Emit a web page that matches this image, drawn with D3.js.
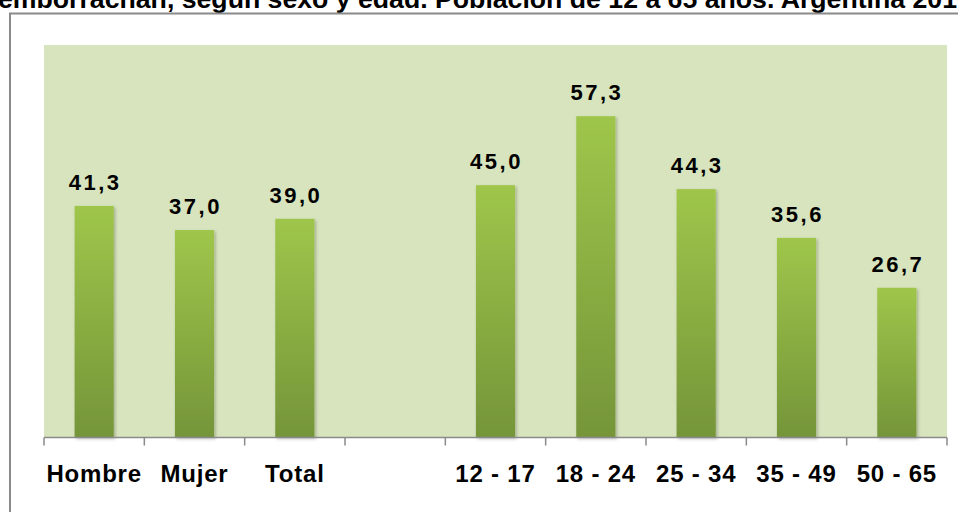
<!DOCTYPE html>
<html>
<head>
<meta charset="utf-8">
<script src="https://cdn.jsdelivr.net/npm/d3@7/dist/d3.min.js"></script>
<style>
  html, body { margin: 0; padding: 0; background: #ffffff; overflow: hidden; }
  svg { display: block; }
  text { font-family: "Liberation Sans", Arial, sans-serif; font-weight: bold; fill: #000; }
</style>
</head>
<body>
<svg id="chart" width="958" height="512"></svg>
<script>
// Porcentaje que se emborracha, por sexo y por grupo de edad
const categories = ["Hombre", "Mujer", "Total", "", "12 - 17", "18 - 24", "25 - 34", "35 - 49", "50 - 65"];
const values = [41.3, 37.0, 39.0, null, 45.0, 57.3, 44.3, 35.6, 26.7];
const valueLabels = ["41,3", "37,0", "39,0", "", "45,0", "57,3", "44,3", "35,6", "26,7"];
const titleText = "emborrachan, según sexo y edad. Población de 12 a 65 años. Argentina 201";

const svg = d3.select("#chart");
const W = 958, H = 512;
const plot = { left: 44, right: 947, top: 45, bottom: 437.5 };

// Gradient for the bars: light green on top, olive at the base
const defs = svg.append("defs");
const grad = defs.append("linearGradient")
  .attr("id", "barGrad").attr("x1", 0).attr("y1", 0).attr("x2", 0).attr("y2", 1);
grad.append("stop").attr("offset", "0%").attr("stop-color", "#9fc64b");
grad.append("stop").attr("offset", "100%").attr("stop-color", "#759539");

const shadow = defs.append("filter").attr("id", "barShadow")
  .attr("x", "-30%").attr("y", "-10%").attr("width", "160%").attr("height", "120%");
shadow.append("feDropShadow").attr("dx", 1.5).attr("dy", 1.5).attr("stdDeviation", 1.5)
  .attr("flood-color", "#000").attr("flood-opacity", 0.25);

// Title, running past the top edge of the page; sized to span the page width
const title = svg.append("text")
  .attr("x", 0).attr("y", 7.5)
  .style("font-size", "27px")
  .text(titleText);
const tw27 = title.node().getComputedTextLength();
title.style("font-size", (27 * 959 / tw27).toFixed(2) + "px");
const tw = title.node().getComputedTextLength();
title.attr("x", 957 - tw);

// Outer chart frame (continues beyond the right and bottom edges)
svg.append("rect")
  .attr("x", 10).attr("y", 13.5)
  .attr("width", W + 20).attr("height", H + 20)
  .attr("fill", "#fff").attr("stroke", "#8a8a8a").attr("stroke-width", 2);

// Plot area background
svg.append("rect")
  .attr("x", plot.left).attr("y", plot.top)
  .attr("width", plot.right - plot.left).attr("height", plot.bottom - plot.top)
  .attr("fill", "#d7e4bd");

const x = d3.scaleBand()
  .domain(d3.range(categories.length))
  .range([plot.left, plot.right])
  .paddingInner(0.61).paddingOuter(0.305);

const y = d3.scaleLinear().domain([0, 70]).range([plot.bottom, plot.top]);

const data = categories.map((c, i) => ({ i, c, v: values[i], lab: valueLabels[i] }))
  .filter(d => d.v != null);

// Bars
svg.append("g").selectAll("rect")
  .data(data).enter().append("rect")
  .attr("x", d => x(d.i))
  .attr("y", d => y(d.v))
  .attr("width", x.bandwidth())
  .attr("height", d => y(0) - y(d.v))
  .attr("fill", "url(#barGrad)")
  .attr("filter", "url(#barShadow)");

// Value labels
svg.append("g").selectAll("text")
  .data(data).enter().append("text")
  .attr("x", d => x(d.i) + x.bandwidth() / 2 + 1)
  .attr("y", d => y(d.v) - 16)
  .attr("text-anchor", "middle")
  .style("font-size", "22px")
  .style("letter-spacing", "2.5px")
  .text(d => d.lab);

// Category axis: ticks at the boundaries between categories
const step = (plot.right - plot.left) / categories.length;
const bounds = d3.range(categories.length + 1).map(k => plot.left + k * step);
const axisG = svg.append("g");
axisG.append("line")
  .attr("x1", plot.left).attr("x2", plot.right)
  .attr("y1", plot.bottom).attr("y2", plot.bottom)
  .attr("stroke", "#8a8a8a").attr("stroke-width", 1.5);
axisG.selectAll("line.tick")
  .data(bounds).enter().append("line")
  .attr("class", "tick")
  .attr("x1", d => d).attr("x2", d => d)
  .attr("y1", plot.bottom).attr("y2", plot.bottom + 8)
  .attr("stroke", "#8a8a8a").attr("stroke-width", 1.5);

axisG.selectAll("text")
  .data(categories.map((c, i) => ({ c, i })).filter(d => d.c !== ""))
  .enter().append("text")
  .attr("x", d => x(d.i) + x.bandwidth() / 2)
  .attr("y", 482)
  .attr("text-anchor", "middle")
  .style("font-size", "24px")
  .style("letter-spacing", "0.8px")
  .text(d => d.c);
</script>
</body>
</html>
